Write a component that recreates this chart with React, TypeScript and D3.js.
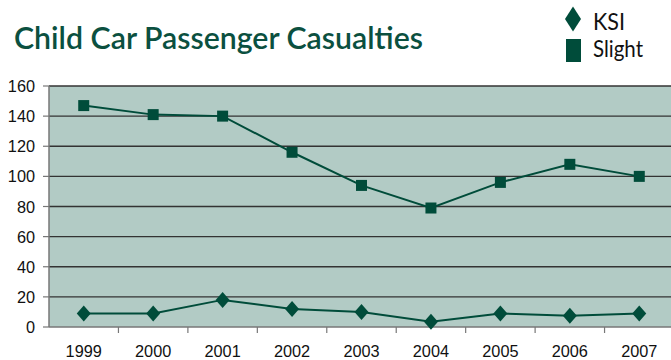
import React from "react";
import * as d3 from "d3";

const years = ["1999", "2000", "2001", "2002", "2003", "2004", "2005", "2006", "2007"];
const ksi = [9, 9, 18, 12, 10, 3.5, 9, 7.5, 9];
const slight = [147, 141, 140, 116, 94, 79, 96, 108, 100];
const yTicks = [0, 20, 40, 60, 80, 100, 120, 140, 160];

const W = 671, H = 360;
const left = 49, right = 674, top = 86, bottom = 327;
const green = "#004c3a";

export default function App() {
  const x = d3.scaleBand<string>().domain(years).range([left, right]);
  const y = d3.scaleLinear().domain([0, 160]).range([bottom, top]);
  const cx = (d: string) => (x(d) as number) + x.bandwidth() / 2;
  const line = d3.line<number>().x((_, i) => cx(years[i])).y((v) => y(v));
  const diamond = (px: number, py: number, w = 7, h = 8) =>
    `M${px},${py - h}L${px + w},${py}L${px},${py + h}L${px - w},${py}Z`;

  return (
    <svg width={W} height={H} style={{ position: "absolute", left: 0, top: 0, background: "#fff" }}>
      <text x={14} y={49} fontFamily="Lato, 'Open Sans', sans-serif" fontSize={31} fill="#0b5040" fontWeight={600}
        textLength={409} lengthAdjust="spacingAndGlyphs">
        Child Car Passenger Casualties
      </text>
      <path d={diamond(573, 19, 8, 12.5)} fill={green} />
      <text x={593} y={30} fontFamily="Lato, sans-serif" fontSize={23} fill="#111" textLength={32} lengthAdjust="spacingAndGlyphs">KSI</text>
      <rect x={566} y={39} width={15} height={23} fill={green} />
      <text x={593} y={57} fontFamily="Lato, sans-serif" fontSize={23} fill="#111" textLength={50} lengthAdjust="spacingAndGlyphs">Slight</text>

      <rect x={left} y={top} width={right - left} height={bottom - top} fill="#b2cbc5" />
      {yTicks.filter((t) => t > 0).map((t) => (
        <line key={t} x1={left} x2={right} y1={y(t)} y2={y(t)} stroke="#333" strokeWidth={1.3} />
      ))}
      <line x1={left} x2={left} y1={top} y2={bottom} stroke="#777" strokeWidth={1.5} />
      <line x1={left} x2={right} y1={bottom} y2={bottom} stroke="#777" strokeWidth={1.5} />
      {yTicks.map((t) => (
        <g key={t}>
          <line x1={left - 6} x2={left} y1={y(t)} y2={y(t)} stroke="#777" strokeWidth={1.2} />
          <text x={35} y={y(t) + 6} textAnchor="end" fontFamily="'Liberation Sans', Arial, sans-serif" fontSize={16.3} fill="#111">
            {t}
          </text>
        </g>
      ))}
      {years.map((yr, i) => (
        <g key={yr}>
          {i > 0 && <line x1={x(yr)} x2={x(yr)} y1={bottom} y2={bottom + 6} stroke="#777" strokeWidth={1.2} />}
          <text x={cx(yr)} y={356.5} textAnchor="middle" fontFamily="'Liberation Sans', Arial, sans-serif" fontSize={16.3} fill="#111">
            {yr}
          </text>
        </g>
      ))}

      <path d={line(slight) ?? ""} fill="none" stroke={green} strokeWidth={2} />
      <path d={line(ksi) ?? ""} fill="none" stroke={green} strokeWidth={2} />
      {slight.map((v, i) => (
        <rect key={i} x={cx(years[i]) - 5.5} y={y(v) - 5.5} width={11} height={11} fill={green} />
      ))}
      {ksi.map((v, i) => (
        <path key={i} d={diamond(cx(years[i]), y(v), 7, 8)} fill={green} />
      ))}
    </svg>
  );
}
